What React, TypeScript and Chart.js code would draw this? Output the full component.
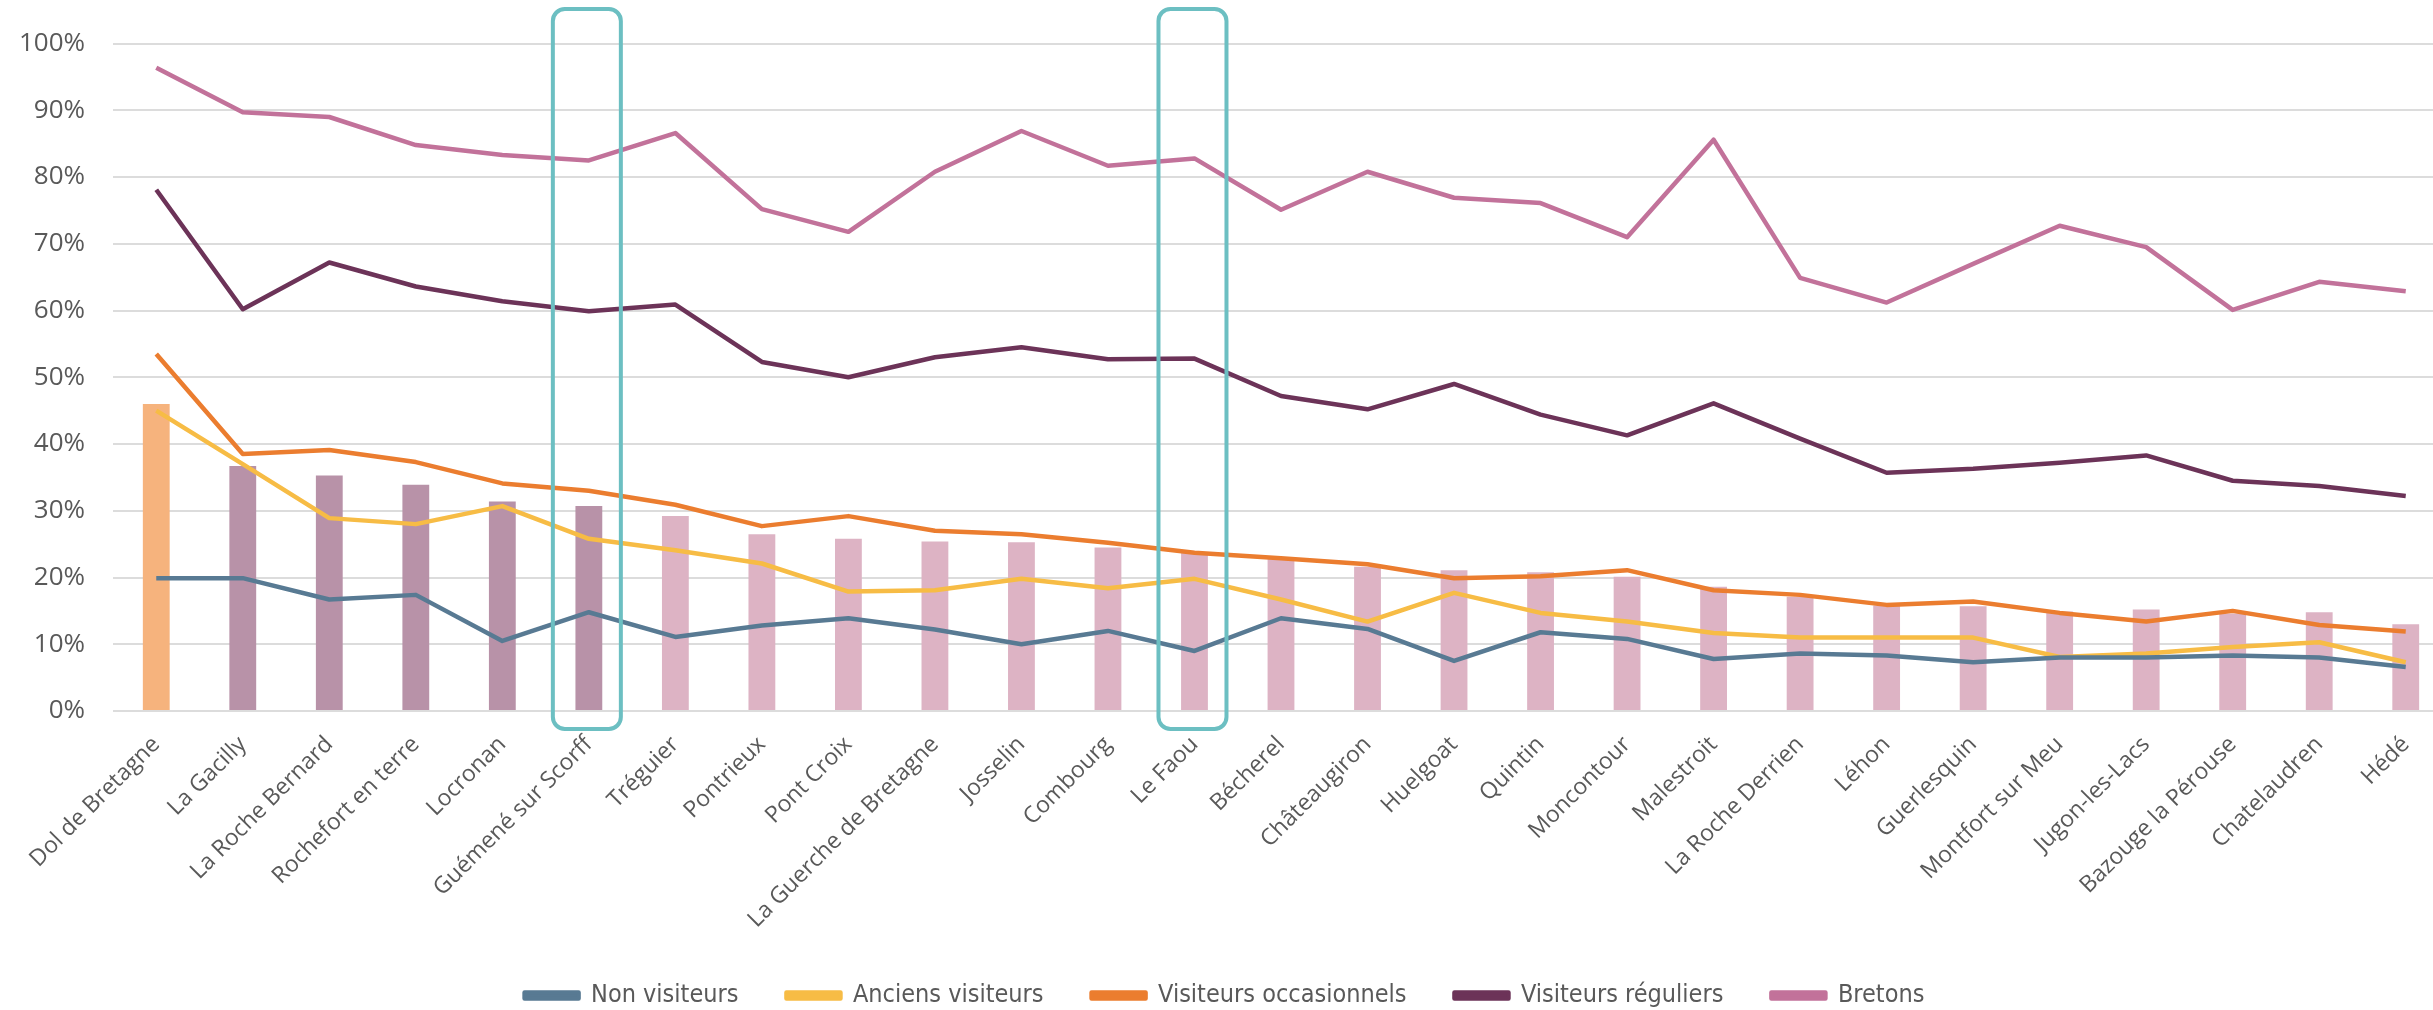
import React, { useEffect, useRef } from "react";
import { Chart, registerables } from "chart.js";

Chart.register(...registerables);

const categories = [
  "Dol de Bretagne", "La Gacilly", "La Roche Bernard", "Rochefort en terre", "Locronan",
  "Guémené sur Scorff", "Tréguier", "Pontrieux", "Pont Croix", "La Guerche de Bretagne",
  "Josselin", "Combourg", "Le Faou", "Bécherel", "Châteaugiron", "Huelgoat", "Quintin",
  "Moncontour", "Malestroit", "La Roche Derrien", "Léhon", "Guerlesquin", "Montfort sur Meu",
  "Jugon-les-Lacs", "Bazouge la Pérouse", "Chatelaudren", "Hédé",
];

const barValues = [46.0, 36.7, 35.3, 33.9, 31.4, 30.7, 29.2, 26.5, 25.8, 25.4, 25.3, 24.5, 23.8, 22.8, 21.6, 21.1, 20.8, 20.1, 18.6, 17.1, 15.8, 15.7, 14.9, 15.2, 14.6, 14.8, 13.0];
const nonVisiteurs = [19.9, 19.9, 16.7, 17.4, 10.5, 14.8, 11.1, 12.8, 13.9, 12.2, 10.0, 12.0, 9.0, 13.9, 12.3, 7.5, 11.8, 10.8, 7.8, 8.6, 8.3, 7.3, 8.0, 8.0, 8.3, 8.0, 6.6];
const anciensVisiteurs = [45.0, 37.0, 28.9, 28.0, 30.7, 25.8, 24.1, 22.1, 17.9, 18.1, 19.8, 18.4, 19.8, 16.7, 13.4, 17.7, 14.7, 13.4, 11.7, 11.0, 11.0, 11.0, 8.1, 8.6, 9.6, 10.3, 7.3];
const visiteursOccasionnels = [53.5, 38.5, 39.1, 37.3, 34.1, 33.0, 30.9, 27.7, 29.2, 27.0, 26.5, 25.2, 23.7, 22.9, 22.0, 19.9, 20.2, 21.1, 18.1, 17.4, 15.9, 16.4, 14.7, 13.4, 15.0, 12.9, 11.9];
const visiteursReguliers = [78.1, 60.2, 67.2, 63.6, 61.4, 59.9, 60.9, 52.3, 50.0, 53.0, 54.5, 52.7, 52.8, 47.2, 45.2, 49.0, 44.4, 41.3, 46.1, 40.8, 35.7, 36.3, 37.2, 38.3, 34.5, 33.7, 32.2];
const bretons = [96.4, 89.7, 89.0, 84.8, 83.3, 82.5, 86.6, 75.2, 71.8, 80.8, 86.9, 81.7, 82.8, 75.1, 80.8, 76.9, 76.1, 71.0, 85.6, 64.9, 61.2, 67.0, 72.7, 69.5, 60.1, 64.3, 62.9];

// bar colour group per category: 0 = orange, 1 = mauve, 2 = light pink
const barGroup = [0, 1, 1, 1, 1, 1, 2, 2, 2, 2, 2, 2, 2, 2, 2, 2, 2, 2, 2, 2, 2, 2, 2, 2, 2, 2, 2];
const barColors = ["#F6B37D", "#B892A8", "#DDB3C4"];
const highlighted = ["Guémené sur Scorff", "Le Faou"];
const yTicks = [0, 10, 20, 30, 40, 50, 60, 70, 80, 90, 100];

const highlightPlugin = {
  id: "highlightBoxes",
  afterDraw(chart: any) {
    const ctx = chart.ctx;
    const xs = chart.scales.x;
    ctx.save();
    ctx.strokeStyle = "#6CBFC2";
    ctx.lineWidth = 4;
    highlighted.forEach((name) => {
      const i = categories.indexOf(name);
      const cx = xs.getPixelForValue(i);
      ctx.beginPath();
      ctx.roundRect(cx - 36, 9, 68, 720, 12);
      ctx.stroke();
    });
    ctx.restore();
  },
};

export default function App() {
  const ref = useRef<HTMLCanvasElement | null>(null);

  useEffect(() => {
    document.body.style.margin = "0";
    document.body.style.overflow = "hidden";
    const canvas = ref.current;
    if (!canvas) return;
    const line = (label: string, data: number[], color: string) => ({
      type: "line" as const,
      label,
      data,
      borderColor: color,
      backgroundColor: color,
      borderWidth: 4.5,
      pointRadius: 0,
      tension: 0,
      borderJoinStyle: "round" as const,
      order: 1,
    });
    const chart = new Chart(canvas, {
      type: "bar",
      data: {
        labels: categories,
        datasets: [
          {
            type: "bar",
            label: "Total",
            data: barValues,
            backgroundColor: barGroup.map((g) => barColors[g]),
            barPercentage: 0.31,
            categoryPercentage: 1,
            order: 2,
          } as any,
          line("Non visiteurs", nonVisiteurs, "#587A93"),
          line("Anciens visiteurs", anciensVisiteurs, "#F7BC45"),
          line("Visiteurs occasionnels", visiteursOccasionnels, "#EB7D2F"),
          line("Visiteurs réguliers", visiteursReguliers, "#6C3358"),
          line("Bretons", bretons, "#C2729A"),
        ],
      },
      options: {
        animation: false,
        responsive: false,
        layout: { padding: { top: 30, left: 0, right: 1, bottom: 0 } },
        plugins: {
          tooltip: { enabled: false },
          legend: {
            position: "bottom",
            labels: {
              filter: (item: any) => item.text !== "Total",
              boxWidth: 54,
              boxHeight: 6,
              padding: 48,
              color: "#595959",
              font: { family: '"DejaVu Sans Condensed", "Liberation Sans Narrow", sans-serif', size: 25 },
            },
          },
        },
        scales: {
          x: {
            grid: { display: false, drawTicks: false },
            border: { display: false },
            ticks: {
              autoSkip: false,
              maxRotation: 45,
              minRotation: 45,
              padding: 20,
              color: "#595959",
              font: { family: '"Open Sans", sans-serif', size: 23 },
            },
            afterFit: (s: any) => {
              s.height = 224;
            },
          },
          y: {
            min: 0,
            max: 100,
            afterBuildTicks: (s: any) => {
              s.ticks = yTicks.map((v) => ({ value: v }));
            },
            grid: { color: "#DCDCDC", lineWidth: 2, drawTicks: false },
            border: { display: false },
            ticks: {
              padding: 28,
              color: "#595959",
              font: { family: '"Open Sans", sans-serif', size: 26 },
              callback: (v: any) => v + "%",
            },
            afterFit: (s: any) => {
              s.width = 113;
            },
          },
        },
      } as any,
      plugins: [highlightPlugin],
    });
    return () => chart.destroy();
  }, []);

  return (
    <div style={{ position: "fixed", left: 0, top: 0, width: 2450, height: 1018, background: "#fff" }}>
      <canvas ref={ref} width={2450} height={1018} style={{ width: 2450, height: 1018 }} />
    </div>
  );
}
